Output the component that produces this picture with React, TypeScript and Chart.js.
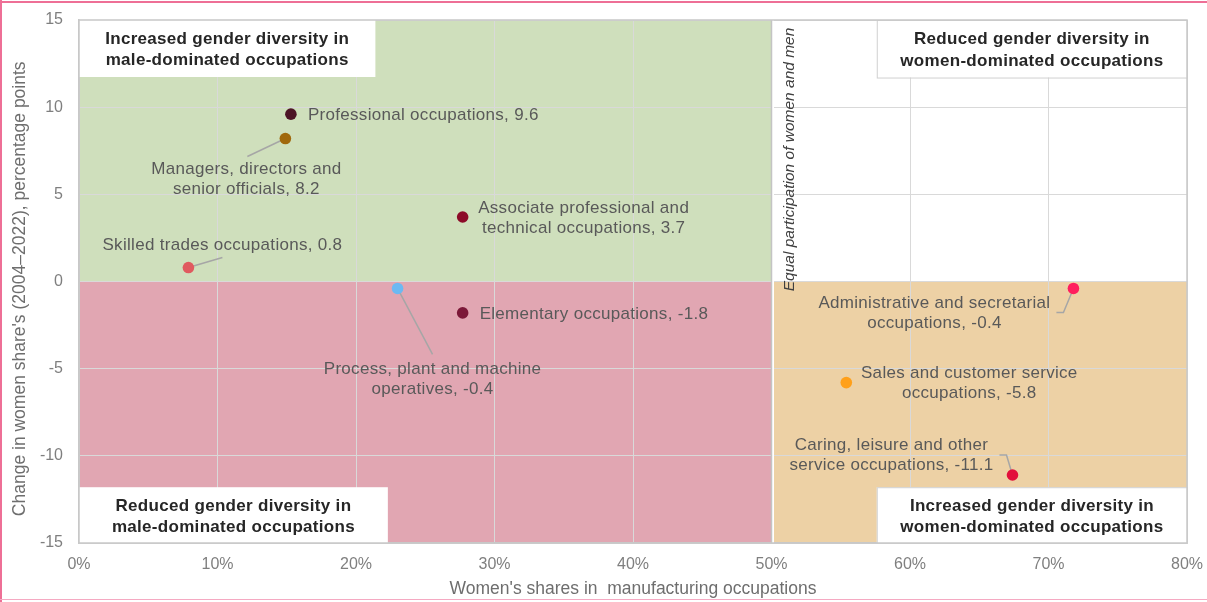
import React, { useEffect, useRef } from "react";
import { Chart, registerables } from "chart.js";

Chart.register(...registerables);

// ---- Data ----
const categories = [
  "Professional occupations",
  "Managers, directors and senior officials",
  "Associate professional and technical occupations",
  "Skilled trades occupations",
  "Process, plant and machine operatives",
  "Elementary occupations",
  "Administrative and secretarial occupations",
  "Sales and customer service occupations",
  "Caring, leisure and other service occupations",
];
const womenShare = [15.3, 14.9, 27.7, 7.9, 23.0, 27.7, 71.8, 55.4, 67.4];
const changeInShare = [9.6, 8.2, 3.7, 0.8, -0.4, -1.8, -0.4, -5.8, -11.1];
const labelLines = [
  ["Professional occupations, 9.6"],
  ["Managers, directors and", "senior officials, 8.2"],
  ["Associate professional and", "technical occupations, 3.7"],
  ["Skilled trades occupations, 0.8"],
  ["Process, plant and machine", "operatives, -0.4"],
  ["Elementary occupations, -1.8"],
  ["Administrative and secretarial", "occupations, -0.4"],
  ["Sales and customer service", "occupations, -5.8"],
  ["Caring, leisure and other", "service occupations, -11.1"],
];
const pointColors = [
  "#4d1426",
  "#a0680c",
  "#8c0b28",
  "#e05a5f",
  "#6cb9f2",
  "#7b1838",
  "#ff1f5e",
  "#ffa01a",
  "#e2103c",
];
const xTickValues = [0, 10, 20, 30, 40, 50, 60, 70, 80];
const yTickValues = [-15, -10, -5, 0, 5, 10, 15];
const xTitle = "Women's shares in  manufacturing occupations";
const yTitle = "Change in women share's (2004\u20132022), percentage points";
const quadrantTitles = [
  ["Increased gender diversity in", "male-dominated occupations"],
  ["Reduced gender diversity in", "male-dominated occupations"],
  ["Reduced gender diversity in", "women-dominated occupations"],
  ["Increased gender diversity in", "women-dominated occupations"],
];
const parityText = "Equal participation of women and men";
const parityShare = 50;

// ---- Styling / layout (not data) ----
const quadrantFills = [
  { x0: 0, x1: 50, y0: 0, y1: 15, color: "#cfdfbc" },
  { x0: 0, x1: 50, y0: -15, y1: 0, color: "#e1a6b2" },
  { x0: 50, x1: 80, y0: -15, y1: 0, color: "#edd1a5" },
];
const titleBoxes = [
  { x0: 0, x1: 21.4, y0: 11.73, y1: 15 },
  { x0: 0, x1: 22.3, y0: -15, y1: -11.8 },
  { x0: 57.6, x1: 80, y0: 11.7, y1: 15 },
  { x0: 57.6, x1: 80, y0: -15, y1: -11.8 },
];
// label offsets in px relative to the point
const labelLayout = [
  { align: "left", dx: 17, dy: 1, leader: null },
  { align: "center", dx: -39, dy: 31, leader: [[-38, 18]] },
  { align: "center", dx: 121, dy: -9, leader: null },
  { align: "center", dx: 34, dy: -22, leader: [[34, -10]] },
  { align: "center", dx: 35, dy: 81, leader: [[35, 66]] },
  { align: "left", dx: 17, dy: 1, leader: null },
  { align: "center", dx: -139, dy: 15, leader: [[-10, 24], [-17, 24]] },
  { align: "center", dx: 123, dy: -9, leader: null },
  { align: "center", dx: -121, dy: -30, leader: [[-6, -20], [-13, -20]] },
];

const FONT = "'Liberation Sans', Arial, sans-serif";

const quadrantPlugin = {
  id: "quadrants",
  beforeDraw(chart: any) {
    const { ctx, scales } = chart;
    const x = scales.x;
    const y = scales.y;
    ctx.save();
    quadrantFills.forEach((q) => {
      const px0 = x.getPixelForValue(q.x0);
      const px1 = x.getPixelForValue(q.x1);
      const py0 = y.getPixelForValue(q.y1);
      const py1 = y.getPixelForValue(q.y0);
      ctx.fillStyle = q.color;
      ctx.fillRect(px0, py0, px1 - px0, py1 - py0);
    });
    ctx.restore();
  },
  beforeDatasetsDraw(chart: any) {
    const { ctx, scales, chartArea: a } = chart;
    const x = scales.x;
    const y = scales.y;
    ctx.save();
    // parity line
    const px = x.getPixelForValue(parityShare);
    ctx.strokeStyle = "#ffffff";
    ctx.lineWidth = 3;
    ctx.beginPath();
    ctx.moveTo(px + 1, a.top);
    ctx.lineTo(px + 1, a.bottom);
    ctx.stroke();
    ctx.strokeStyle = "#c4c4c4";
    ctx.lineWidth = 1.5;
    ctx.beginPath();
    ctx.moveTo(px, a.top);
    ctx.lineTo(px, a.bottom);
    ctx.stroke();

    // title boxes
    titleBoxes.forEach((b, i) => {
      const bx0 = x.getPixelForValue(b.x0);
      const bx1 = x.getPixelForValue(b.x1);
      const by0 = y.getPixelForValue(b.y1);
      const by1 = y.getPixelForValue(b.y0);
      ctx.fillStyle = "#ffffff";
      ctx.fillRect(bx0, by0, bx1 - bx0, by1 - by0);
      if (i >= 2) {
        ctx.strokeStyle = "#d0d0d0";
        ctx.lineWidth = 1;
        ctx.strokeRect(bx0 + 0.5, by0 + 0.5, bx1 - bx0, by1 - by0);
      }
      ctx.fillStyle = "#262626";
      ctx.font = `bold 17px ${FONT}`;
      (ctx as any).letterSpacing = "0.3px";
      ctx.textAlign = "center";
      ctx.textBaseline = "middle";
      const cx = (bx0 + bx1) / 2;
      const cy = (by0 + by1) / 2 + 1.5;
      const lines = quadrantTitles[i];
      lines.forEach((t, k) => {
        ctx.fillText(t, cx, cy + (k - (lines.length - 1) / 2) * 21.5);
      });
    });
    (ctx as any).letterSpacing = "0px";

    // plot frame
    ctx.strokeStyle = "#c8c8c8";
    ctx.lineWidth = 1.5;
    ctx.strokeRect(a.left, a.top, a.right - a.left, a.bottom - a.top);

    // parity text
    ctx.save();
    ctx.translate(px + 18, y.getPixelForValue(7.0));
    ctx.rotate(-Math.PI / 2);
    ctx.fillStyle = "#404040";
    ctx.font = `italic 15.5px ${FONT}`;
    ctx.textAlign = "center";
    ctx.textBaseline = "middle";
    ctx.fillText(parityText, 0, 0);
    ctx.restore();

    // leader lines
    const meta = chart.getDatasetMeta(0);
    ctx.strokeStyle = "#a6a6a6";
    ctx.lineWidth = 1.5;
    meta.data.forEach((pt: any, i: number) => {
      const l = labelLayout[i];
      if (!l.leader) return;
      ctx.beginPath();
      ctx.moveTo(pt.x, pt.y);
      l.leader.forEach((p) => ctx.lineTo(pt.x + p[0], pt.y + p[1]));
      ctx.stroke();
    });
    ctx.restore();
  },
  afterDatasetsDraw(chart: any) {
    const { ctx } = chart;
    const meta = chart.getDatasetMeta(0);
    ctx.save();
    ctx.fillStyle = "#595959";
    ctx.font = `17px ${FONT}`;
    (ctx as any).letterSpacing = "0.3px";
    ctx.textBaseline = "middle";
    meta.data.forEach((pt: any, i: number) => {
      const l = labelLayout[i];
      ctx.textAlign = l.align as CanvasTextAlign;
      labelLines[i].forEach((t, k) => {
        ctx.fillText(t, pt.x + l.dx, pt.y + l.dy + k * 20);
      });
    });
    ctx.restore();
  },
};

const zeroPadding = (s: any) => {
  s.paddingTop = 0;
  s.paddingBottom = 0;
  s.paddingLeft = 0;
  s.paddingRight = 0;
};

export default function App() {
  const ref = useRef<HTMLCanvasElement | null>(null);
  useEffect(() => {
    if (!ref.current) return;
    const chart = new Chart(ref.current, {
      type: "scatter",
      data: {
        datasets: [
          {
            label: "Occupations",
            data: categories.map((c, i) => ({ x: womenShare[i], y: changeInShare[i] })),
            backgroundColor: pointColors,
            borderColor: pointColors,
            borderWidth: 0,
            pointRadius: 5.8,
            pointHoverRadius: 5.8,
          },
        ],
      },
      options: {
        responsive: false,
        animation: false,
        layout: { padding: { top: 20, right: 20, left: 0, bottom: 0 } },
        plugins: {
          legend: { display: false },
          tooltip: { enabled: false },
        },
        scales: {
          x: {
            type: "linear",
            min: 0,
            max: 80,
            afterBuildTicks: (s: any) => {
              s.ticks = xTickValues.map((v) => ({ value: v }));
            },
            afterFit: (s: any) => {
              s.height = 59;
              zeroPadding(s);
            },
            ticks: {
              callback: (v: any) => `${v}%`,
              color: "#7f7f7f",
              font: { family: FONT, size: 16 },
              padding: 12,
            },
            grid: { color: "#d9d9d9", lineWidth: 1, drawTicks: false },
            border: { color: "#c8c8c8", width: 1.5 },
            title: {
              display: true,
              text: xTitle,
              color: "#6e6e6e",
              font: { family: FONT, size: 17.5 },
              padding: { top: 0, bottom: 2 },
            },
          },
          y: {
            type: "linear",
            min: -15,
            max: 15,
            afterBuildTicks: (s: any) => {
              s.ticks = yTickValues.map((v) => ({ value: v }));
            },
            afterFit: (s: any) => {
              s.width = 79;
              zeroPadding(s);
            },
            ticks: {
              callback: (v: any) => String(v),
              color: "#7f7f7f",
              font: { family: FONT, size: 16 },
              padding: 16,
            },
            grid: { color: "#d9d9d9", lineWidth: 1, drawTicks: false },
            border: { color: "#c8c8c8", width: 1.5 },
            title: {
              display: true,
              text: yTitle + "   ",
              color: "#6e6e6e",
              font: { family: FONT, size: 17.5 },
              padding: { top: 9.5, bottom: 0 },
            },
          },
        },
      },
      plugins: [quadrantPlugin],
    });
    return () => chart.destroy();
  }, []);

  return (
    <div
      style={{
        position: "absolute",
        left: 0,
        top: 0,
        width: 1207,
        height: 602,
        background: "#ffffff",
        overflow: "hidden",
      }}
    >
      <canvas ref={ref} width={1207} height={602} style={{ display: "block" }} />
      <div style={{ position: "absolute", left: 0, top: 1, width: 1207, height: 2, background: "#ee6f96" }} />
      <div style={{ position: "absolute", left: 0, top: 0, width: 2, height: 602, background: "#ee6f96" }} />
      <div style={{ position: "absolute", left: 0, top: 599, width: 1207, height: 1, background: "#f5a9c2" }} />
    </div>
  );
}
